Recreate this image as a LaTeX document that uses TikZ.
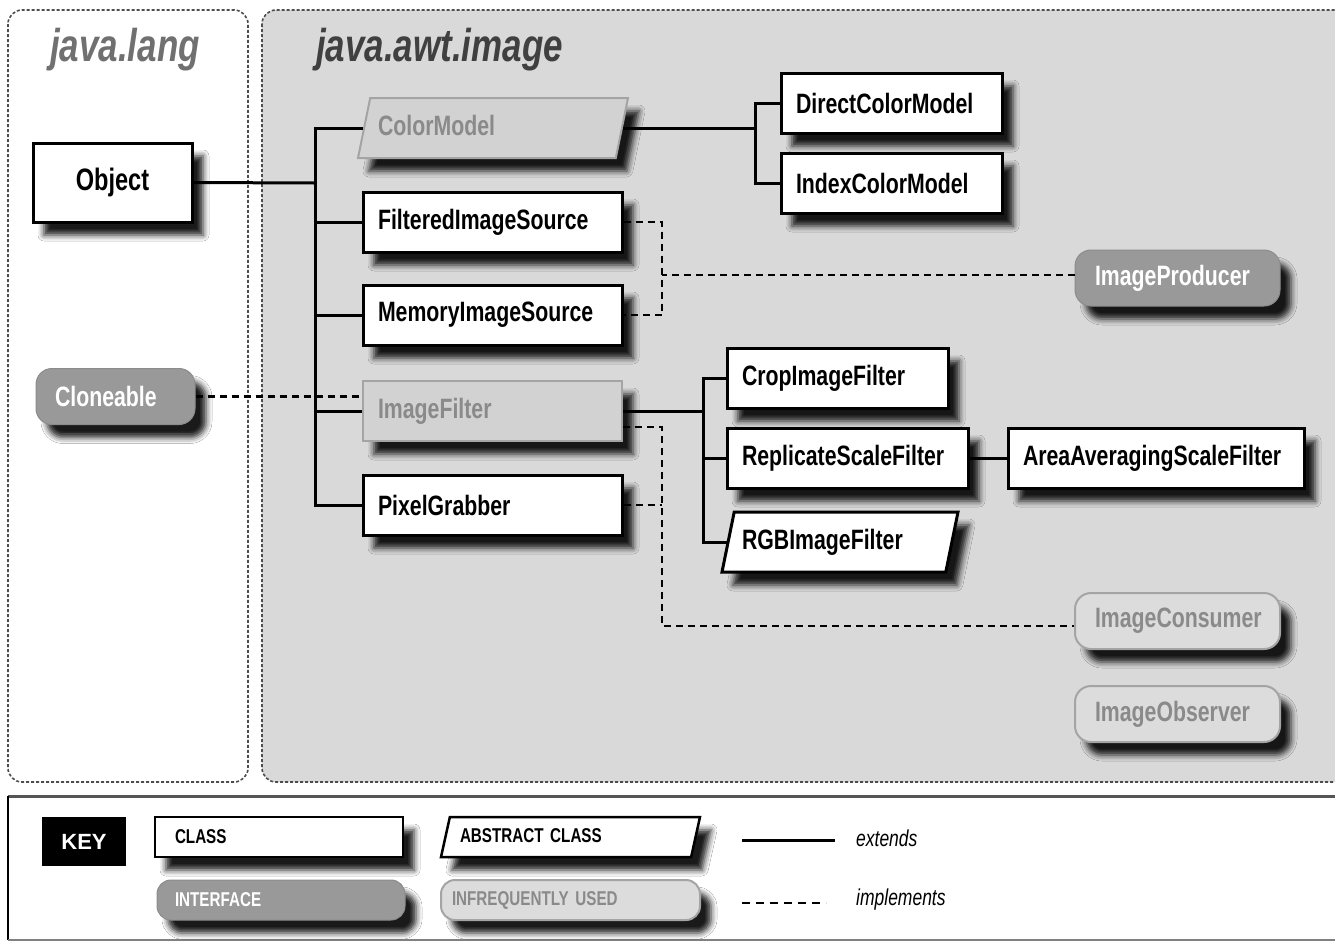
\documentclass[tikz,border=0pt]{standalone}
\usepackage{fontspec}
\setmainfont{Liberation Sans}
\newfontfamily\cnd[FakeStretch=0.76]{Liberation Sans}
\usetikzlibrary{shapes.geometric,shadows.blur}
\definecolor{panelgray}{HTML}{D9D9D9}
\definecolor{ifacegray}{HTML}{999999}
\definecolor{ifaceborder}{HTML}{8C8C8C}
\definecolor{rareborder}{HTML}{A4A4A4}
\definecolor{raretext}{HTML}{8A8A8A}
\definecolor{rarefill}{HTML}{D2D2D2}
\definecolor{rareifill}{HTML}{DCDCDC}
\definecolor{dotline}{HTML}{4D4D4D}
\definecolor{langtitle}{HTML}{707070}
\definecolor{awttitle}{HTML}{404040}
\definecolor{keytop}{HTML}{555555}
\begin{document}
\begin{tikzpicture}[x=1pt,y=-1pt,
  lbl/.style={font=\cnd\bfseries\fontsize{28}{30}\selectfont},
  keylbl/.style={font=\cnd\bfseries\fontsize{20}{22}\selectfont},
  keyital/.style={font=\cnd\itshape\fontsize{23}{25}\selectfont, inner sep=0pt},
  titlefont/.style={font=\cnd\bfseries\itshape\fontsize{46}{48}\selectfont, inner sep=0pt},
  shad/.style={blur shadow={shadow xshift=11pt,shadow yshift=-13pt,shadow blur radius=6pt,shadow opacity=90}},
  cls/.style={lbl,shad,draw=black,line width=3pt,fill=white,inner xsep=0pt,inner ysep=0pt,align=left,minimum height=60pt},
  rarecol/.style={draw=rareborder,line width=2pt,fill=rarefill,text=raretext},
  abs/.style={cls,trapezium,trapezium left angle=78.5,trapezium right angle=101.5,trapezium stretches body,
              text height=20pt,text depth=6pt,inner ysep=17pt},
  absk/.style={abs,text height=15pt,text depth=4pt,inner ysep=10.5pt,trapezium left angle=77.5,trapezium right angle=102.5},
  iface/.style={lbl,shad,rectangle,rounded corners=16pt,fill=ifacegray,draw=ifaceborder,line width=1pt,text=white,inner xsep=0pt,inner ysep=0pt,align=left,minimum height=56pt},
  rareiface/.style={iface,fill=rareifill,draw=rareborder,line width=2pt,text=raretext},
  panel/.style={draw=dotline,line width=1.6pt,dash pattern=on 3pt off 2pt,rounded corners=14pt},
  ext/.style={line width=3pt},
  impl/.style={line width=2.5pt,dash pattern=on 7pt off 5pt}]
\useasboundingbox (0,0) rectangle (1335,943);
\fill[white] (0,0) rectangle (1335,943);
% package panels
\draw[panel,fill=white] (8,10) rectangle (248,782);
\draw[panel,fill=panelgray] (262,10) rectangle (1350,782);
\node[titlefont,text=langtitle,anchor=base west] (tlang) at (50,61) {java.lang};
\node[titlefont,text=awttitle,anchor=base west] (tawt) at (316,61) {java.awt.image};
% key panel
\fill[white] (8,796) rectangle (1345,940);
\draw[line width=3pt,draw=keytop] (8,796) -- (1345,796);
\draw[line width=2pt] (8,796) -- (8,940);
\draw[line width=2pt,draw=gray] (8,940) -- (1345,940);
% classes
\node[cls,font=\cnd\bfseries\fontsize{31}{33}\selectfont,minimum width=159pt,minimum height=79pt,text width=129pt,align=center] (obj) at (112.5,182.5) {Object};
\node[abs,rarecol,minimum width=270pt,text width=230pt] (cm) at (493,128) {ColorModel};
\node[cls,minimum width=259pt,text width=229pt] (fis) at (492.5,222) {FilteredImageSource};
\node[cls,minimum width=259pt,text width=229pt] (mis) at (492.5,315) {MemoryImageSource};
\node[cls,rarecol,minimum width=259pt,text width=229pt] (if) at (492.5,411) {ImageFilter};
\node[cls,minimum width=259pt,text width=229pt] (pg) at (492.5,505) {PixelGrabber};
\node[cls,minimum width=221pt,text width=191pt] (dcm) at (891.5,103) {DirectColorModel};
\node[cls,minimum width=221pt,text width=191pt] (icm) at (891.5,183) {IndexColorModel};
\node[cls,minimum width=221pt,text width=191pt] (crop) at (837.5,378) {CropImageFilter};
\node[cls,minimum width=241pt,text width=211pt] (rsf) at (847.5,458) {ReplicateScaleFilter};
\node[cls,minimum width=296pt,text width=266pt] (aasf) at (1156,458) {AreaAveragingScaleFilter};
\node[abs,minimum width=236pt,text width=196pt] (rgb) at (840,542) {RGBImageFilter};
% interfaces
\node[iface,minimum width=205pt,text width=165pt] (ip) at (1177.5,278) {ImageProducer};
\node[iface,minimum width=159pt,text width=121pt] (cl) at (115.5,396.5) {Cloneable};
\node[rareiface,minimum width=205pt,text width=165pt] (ic) at (1177.5,621) {ImageConsumer};
\node[rareiface,minimum width=205pt,text width=165pt] (io) at (1177.5,714) {ImageObserver};
% extends connectors
\coordinate (tr) at (315,183);
\draw[ext] (obj.east) -- (tr);
\draw[ext] (cm.west) -- (cm.west -| tr) -- (pg.west -| tr) -- (pg.west);
\foreach \n in {fis,mis,if} \draw[ext] (\n.west) -- (\n.west -| tr);
\coordinate (cj) at (755,127);
\draw[ext] (cm.east) -- (cm.east -| cj);
\draw[ext] (dcm.west) -- (dcm.west -| cj) -- (icm.west -| cj) -- (icm.west);
\coordinate (fj) at (703,410);
\draw[ext] (if.east) -- (if.east -| fj);
\draw[ext] (crop.west) -- (crop.west -| fj) -- (rgb.west -| fj) -- (rgb.west);
\draw[ext] (rsf.west) -- (rsf.west -| fj);
\draw[ext] (rsf.east) -- (aasf.west);
% implements connectors
\coordinate (dj) at (662,0);
\draw[impl] (fis.east) -- (fis.east -| dj) -- (mis.east -| dj) -- (mis.east);
\draw[impl] ([yshift=3pt]ip.west) -- ([yshift=3pt]ip.west -| dj);
\draw[impl] ([yshift=-16pt]if.east) -- ([yshift=-16pt]if.east -| dj) -- ([yshift=-5pt]ic.west -| dj) -- ([yshift=-5pt]ic.west);
\draw[impl] (pg.east) -- (pg.east -| dj);
\draw[impl] (cl.east) -- (cl.east -| if.west);
% key
\node[fill=black,text=white,font=\bfseries\fontsize{22}{24}\selectfont,minimum width=84pt,minimum height=49pt,inner sep=0pt] (key) at (84,841.5) {KEY};
\node[cls,keylbl,line width=2.5pt,minimum width=248pt,minimum height=40pt,text width=208pt] (kcls) at (279,837) {CLASS};
\node[absk,keylbl,line width=2.5pt,minimum width=259pt,minimum height=40pt,text width=221pt] (kabs) at (570.5,837) {ABSTRACT CLASS};
\node[iface,keylbl,rounded corners=14pt,minimum width=248pt,minimum height=40pt,text width=212pt] (kif) at (281,900) {INTERFACE};
\node[rareiface,keylbl,rounded corners=14pt,minimum width=259pt,minimum height=40pt,text width=237pt] (krare) at (570.5,900) {INFREQUENTLY USED};
\coordinate (e1) at (742,840);
\coordinate (e2) at (835,840);
\draw[ext] (e1) -- (e2);
\node[keyital,anchor=west] (lext) at (856,838) {extends};
\coordinate (i1) at (742,903);
\coordinate (i2) at (826,903);
\draw[impl,dash pattern=on 8pt off 6pt] (i1) -- (i2);
\node[keyital,anchor=west] (limp) at (856,900) {implements};
\end{tikzpicture}
\end{document}
